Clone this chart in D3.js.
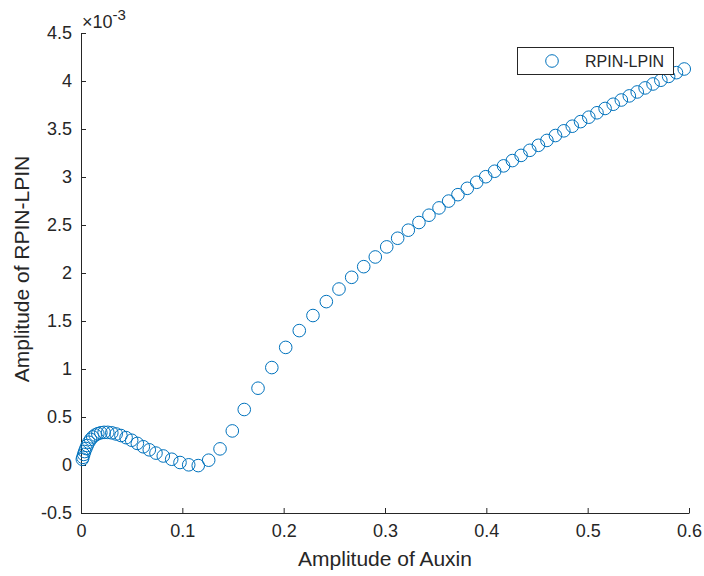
<!DOCTYPE html>
<html>
<head>
<meta charset="utf-8">
<script src="https://cdn.jsdelivr.net/npm/d3@7"></script>
<style>
    body { margin: 0; background: #fff; }
    svg text { font-family: "Liberation Sans", Arial, Helvetica, sans-serif; fill: #262626; }
</style>
</head>
<body>
<svg id="chart" width="704" height="576"></svg>
<script>

// amplitude of auxin (x)
const auxin = [
    0.0013, 0.0019, 0.0027, 0.0036, 0.0048, 0.0061, 0.0077, 0.0095, 0.0116, 0.0140,
    0.0166, 0.0196, 0.0228, 0.0264, 0.0304, 0.0347, 0.0394, 0.0445, 0.0500, 0.0556,
    0.0615, 0.0674, 0.0740, 0.0812, 0.0895, 0.0977, 0.1063, 0.1157, 0.1260, 0.1372,
    0.1493, 0.1611, 0.1747, 0.1883, 0.2020, 0.2154, 0.2289, 0.2421, 0.2546, 0.2671,
    0.2790, 0.2904, 0.3017, 0.3125, 0.3230, 0.3335, 0.3434, 0.3533, 0.3628, 0.3720,
    0.3812, 0.3905, 0.3994, 0.4082, 0.4170, 0.4257, 0.4343, 0.4429, 0.4514, 0.4598,
    0.4682, 0.4765, 0.4848, 0.4930, 0.5011, 0.5092, 0.5172, 0.5252, 0.5332, 0.5411,
    0.5489, 0.5567, 0.5645, 0.5722, 0.5799, 0.5876, 0.5953
];

// amplitude of RPIN-LPIN, in units of 1e-3
const rpinLpin = [
    0.060, 0.080, 0.110, 0.140, 0.172, 0.203, 0.237, 0.267, 0.292, 0.312,
    0.326, 0.336, 0.340, 0.340, 0.335, 0.323, 0.307, 0.285, 0.258, 0.225,
    0.190, 0.158, 0.124, 0.094, 0.060, 0.026, 0.002, -0.006, 0.050, 0.168,
    0.355, 0.578, 0.800, 1.015, 1.225, 1.400, 1.557, 1.702, 1.833, 1.955,
    2.066, 2.167, 2.272, 2.362, 2.446, 2.526, 2.602, 2.678, 2.749, 2.816,
    2.882, 2.945, 3.003, 3.060, 3.116, 3.171, 3.225, 3.278, 3.330, 3.381,
    3.432, 3.481, 3.529, 3.577, 3.623, 3.669, 3.714, 3.758, 3.802, 3.845,
    3.886, 3.928, 3.969, 4.008, 4.048, 4.087, 4.125
];

const xTicks = [0, 0.1, 0.2, 0.3, 0.4, 0.5, 0.6];
const yTicks = [-0.5, 0, 0.5, 1, 1.5, 2, 2.5, 3, 3.5, 4, 4.5];
const seriesName = "RPIN-LPIN";

const axisColor = "#262626";
const markerColor = "#0072BD";

const svg = d3.select("#chart");
const plot = { left: 81, top: 33, right: 689, bottom: 513 };

const x = d3.scaleLinear().domain([0, 0.6]).range([plot.left, plot.right]);
const y = d3.scaleLinear().domain([-0.5, 4.5]).range([plot.bottom, plot.top]);

//x axis
const xAxis = svg.append("g")
    .attr("transform", "translate(0," + plot.bottom + ")")
    .call(d3.axisBottom(x).tickValues(xTicks).tickFormat(d => String(d))
        .tickSizeInner(-5).tickSizeOuter(0).tickPadding(11));

//y axis
const yAxis = svg.append("g")
    .attr("transform", "translate(" + plot.left + ",0)")
    .call(d3.axisLeft(y).tickValues(yTicks).tickFormat(d => String(d))
        .tickSizeInner(-5).tickSizeOuter(0).tickPadding(9));

[xAxis, yAxis].forEach(function (g) {
    g.select(".domain").attr("stroke", axisColor).attr("stroke-width", 1);
    g.selectAll(".tick line").attr("stroke", axisColor).attr("stroke-width", 1);
    g.selectAll(".tick text")
        .style("font-size", "18px")
        .style("fill", axisColor);
});

// exponent label over the y axis
const expo = svg.append("text")
    .attr("x", plot.left + 1)
    .attr("y", 28)
    .style("font-size", "18px");
expo.append("tspan").text("\u00d710");
expo.append("tspan").attr("dy", -8).style("font-size", "15px").text("-3");

// axis titles
svg.append("text")
    .attr("x", (plot.left + plot.right) / 2)
    .attr("y", 566)
    .attr("text-anchor", "middle")
    .style("font-size", "21px")
    .text("Amplitude of Auxin");

svg.append("text")
    .attr("transform", "translate(29," + ((plot.top + plot.bottom) / 2 - 4) + ") rotate(-90)")
    .attr("text-anchor", "middle")
    .style("font-size", "21px")
    .text("Amplitude of RPIN-LPIN");

// points
svg.append("g")
    .selectAll("circle")
    .data(auxin)
    .join("circle")
    .attr("cx", d => x(d))
    .attr("cy", (d, i) => y(rpinLpin[i]))
    .attr("r", 6.3)
    .attr("fill", "none")
    .attr("stroke", markerColor)
    .attr("stroke-width", 1);

// legend
const legend = svg.append("g").attr("transform", "translate(517,47)");
legend.append("rect")
    .attr("x", 0.5)
    .attr("y", 0.5)
    .attr("width", 156)
    .attr("height", 27)
    .attr("fill", "#fff")
    .attr("stroke", axisColor)
    .attr("stroke-width", 1);
legend.append("circle")
    .attr("cx", 35)
    .attr("cy", 14)
    .attr("r", 6.3)
    .attr("fill", "none")
    .attr("stroke", markerColor);
legend.append("text")
    .attr("x", 68)
    .attr("y", 20)
    .style("font-size", "16px")
    .text(seriesName);
</script>
</body>
</html>
